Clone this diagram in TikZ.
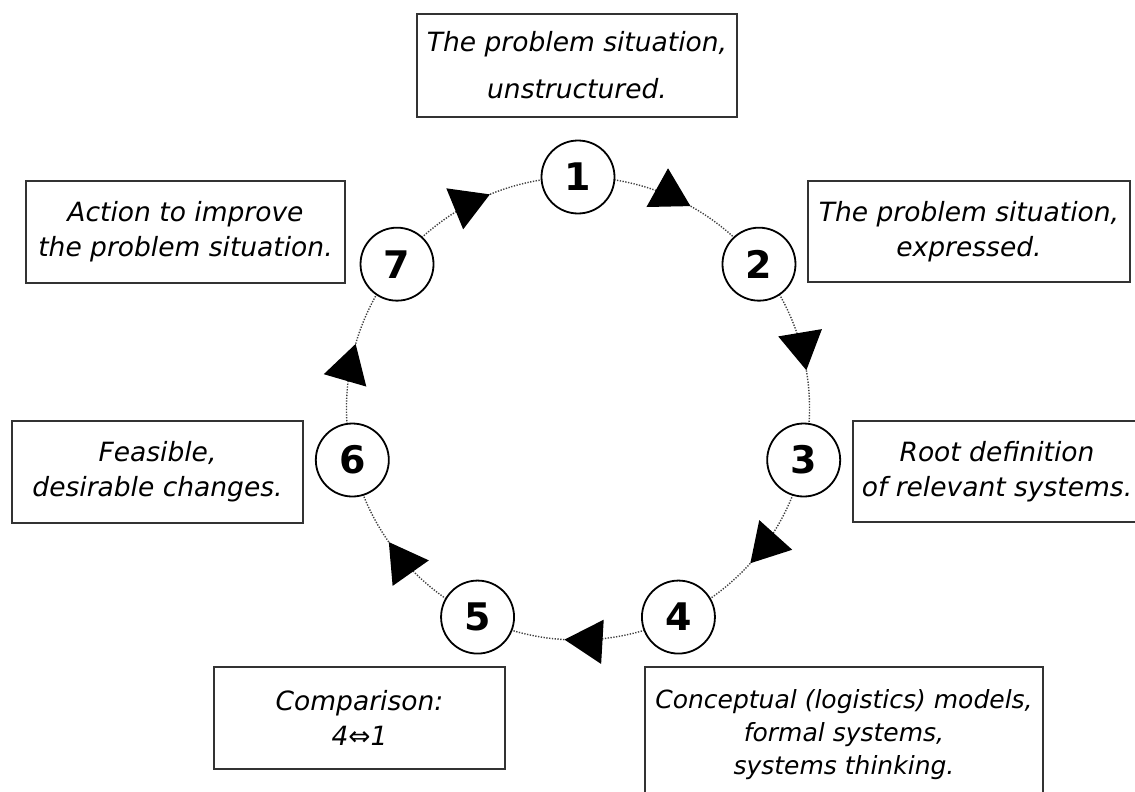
\documentclass[tikz,border=0pt]{standalone}
\usepackage{fontspec}
\setmainfont{DejaVu Sans}
\usetikzlibrary{arrows.meta,decorations.markings,backgrounds}
\begin{document}
\begin{tikzpicture}[x=1pt,y=1pt,
  num/.style={circle,draw=black,line width=1.8pt,fill=white,minimum size=73pt,inner sep=0pt,
    font=\fontsize{38}{40}\selectfont\bfseries},
  box/.style={draw=black!80,line width=1.6pt,align=center,inner sep=0pt,
    font=\fontsize{26.5}{35}\selectfont\itshape},
  conn/.style={dash pattern=on 1.3pt off 1.5pt, line width=1.4pt, draw=black!75, bend left=25.7, looseness=0.9,
    postaction={decorate},
    decoration={markings, mark=at position 0.565 with {\arrow[black,solid]{Triangle[length=38pt,width=44pt]}}}}
]
\useasboundingbox (0,0) rectangle (1135,-792);
\clip (0,0) rectangle (1135,-792);
\coordinate (C) at (578,-408.5);
\foreach \k in {1,...,7}{
  \path (C) ++({90-(\k-1)*360/7}:231.5) node[num] (n\k) {\k};
}
\begin{scope}[on background layer]
\fill[white] (0,0) rectangle (1135,-792);
\foreach \a/\b in {1/2,2/3,3/4,4/5,5/6,6/7,7/1}{
  \draw[conn] (n\a.center) to (n\b.center);
}
\end{scope}
\node[box,minimum width=320pt,minimum height=103pt] (b1) at (577,-65.5) {The problem situation,\\[12pt]unstructured.};
\node[box,minimum width=322pt,minimum height=101pt] (b2) at (969,-231.5) {The problem situation,\\expressed.};
\node[box,minimum width=288pt,minimum height=101pt] (b3) at (997,-471.5) {Root definition\\of relevant systems.};
\node[box,minimum width=398pt,minimum height=136pt,font=\fontsize{25}{33}\selectfont\itshape] (b4) at (844,-735) {Conceptual (logistics) models,\\formal systems,\\systems thinking.};
\node[box,minimum width=291pt,minimum height=102pt] (b5) at (359.5,-718) {Comparison:\\4⇔1};
\node[box,minimum width=291pt,minimum height=102pt] (b6) at (157.5,-472) {Feasible,\\desirable changes.};
\node[box,minimum width=319pt,minimum height=102pt] (b7) at (185.5,-232) {Action to improve\\the problem situation.};
\end{tikzpicture}
\end{document}
